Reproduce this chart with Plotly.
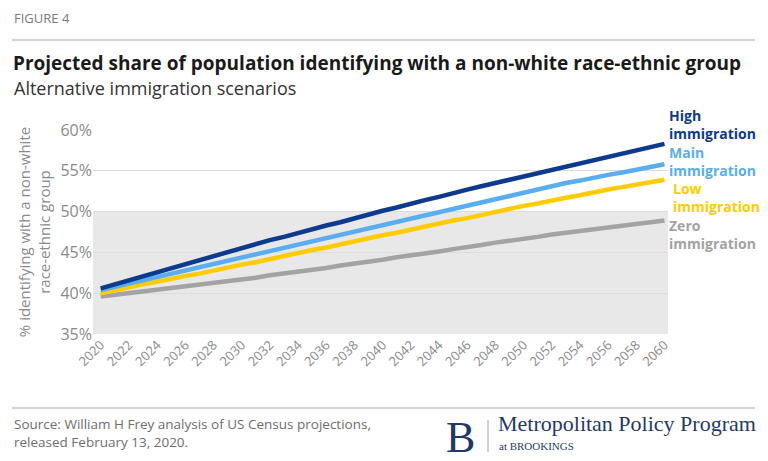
import plotly.graph_objects as go

years = list(range(2020, 2061))
high = [40.6, 41.1, 41.6, 42.1, 42.6, 43.1, 43.6, 44.1, 44.6, 45.0,
        45.5, 46.0, 46.5, 46.9, 47.4, 47.8, 48.3, 48.7, 49.2, 49.6,
        50.1, 50.5, 51.0, 51.4, 51.8, 52.3, 52.7, 53.1, 53.5, 53.9,
        54.3, 54.7, 55.1, 55.5, 55.9, 56.3, 56.7, 57.1, 57.5, 57.9, 58.3]
main = [40.4, 40.8, 41.2, 41.6, 42.0, 42.4, 42.7, 43.1, 43.5, 43.9,
        44.3, 44.7, 45.1, 45.5, 45.9, 46.3, 46.7, 47.1, 47.5, 47.9,
        48.3, 48.7, 49.1, 49.5, 49.9, 50.3, 50.7, 51.1, 51.5, 51.9,
        52.3, 52.7, 53.1, 53.5, 53.8, 54.2, 54.5, 54.8, 55.1, 55.5, 55.8]
low = [40.0, 40.4, 40.7, 41.1, 41.4, 41.8, 42.1, 42.4, 42.8, 43.1,
       43.5, 43.8, 44.2, 44.6, 44.9, 45.3, 45.6, 46.0, 46.4, 46.7,
       47.1, 47.4, 47.8, 48.2, 48.5, 48.9, 49.2, 49.6, 50.0, 50.3,
       50.7, 51.0, 51.4, 51.7, 52.0, 52.4, 52.7, 53.0, 53.3, 53.6, 53.9]
zero = [39.6, 39.8, 40.0, 40.2, 40.4, 40.6, 40.8, 41.0, 41.3, 41.5,
        41.7, 41.9, 42.2, 42.4, 42.6, 42.9, 43.1, 43.4, 43.6, 43.9,
        44.1, 44.4, 44.6, 44.9, 45.1, 45.4, 45.6, 45.9, 46.2, 46.4,
        46.7, 46.9, 47.2, 47.4, 47.6, 47.9, 48.1, 48.3, 48.5, 48.7, 48.9]
tick_years = list(range(2020, 2061, 2))
y_ticks = [35, 40, 45, 50, 55, 60]

series = [
    ("Zero", zero, "#A3A3A3"),
    ("Low", low, "#FFCC00"),
    ("Main", main, "#58AEF0"),
    ("High", high, "#0B3A8E"),
]

SANS = "'Open Sans', Roboto, sans-serif"
SERIF = "'Liberation Serif', 'DejaVu Serif', serif"

W, H = 768, 461
ML, MR, MT, MB = 93, 100, 130, 127


def px(x):
    return (x - ML) / (W - ML - MR)


def py(y):
    return (H - MB - y) / (H - MT - MB)


fig = go.Figure()
for name, vals, col in series:
    fig.add_trace(go.Scatter(x=years, y=vals, mode="lines", name=name + " immigration",
                             line=dict(color=col, width=4.5), showlegend=False,
                             hoverinfo="skip"))

# shaded band 35-50%
fig.add_shape(type="rect", xref="paper", yref="y", x0=0, x1=1, y0=35, y1=50,
              fillcolor="#E8E8E8", line=dict(width=0), layer="below")

# end labels: pixel y centre of first word, second word, x shift
label_pos = {
    "High": (115, 133, 0),
    "Main": (152, 170, 0),
    "Low": (188, 206, 4),
    "Zero": (225, 243, 0),
}
for name, vals, col in series:
    y1, y2, dx = label_pos[name]
    for word, yy in ((name, y1), ("immigration", y2)):
        fig.add_annotation(x=1, xref="paper", y=py(yy), yref="paper", text="<b>" + word + "</b>",
                           showarrow=False, xanchor="left", yanchor="middle", align="left",
                           xshift=dx, borderpad=0,
                           font=dict(family=SANS, size=14, color=col))

fig.update_layout(
    width=W, height=H,
    margin=dict(l=ML, r=MR, t=MT, b=MB),
    paper_bgcolor="white", plot_bgcolor="white",
    xaxis=dict(range=[2019.45, 2060.25], tickmode="array", tickvals=tick_years,
               ticktext=[str(y) for y in tick_years], tickangle=-45,
               tickfont=dict(family=SANS, size=13, color="#8A8A8A"),
               showgrid=False, zeroline=False, showline=False, ticks=""),
    yaxis=dict(range=[35, 60], tickvals=y_ticks, ticktext=[f"{v}%" for v in y_ticks],
               tickfont=dict(family=SANS, size=16, color="#8A8A8A"),
               showgrid=True, gridcolor="#DCDCDC", gridwidth=1, zeroline=False,
               ticks="", ticklen=0,
               title=dict(text="% identifying with a non-white<br>race-ethnic group",
                          font=dict(family=SANS, size=15, color="#8A8A8A"), standoff=6)),
)

def txt(x, y, text, size, color, family=SANS, align="left"):
    fig.add_annotation(x=px(x), y=py(y), xref="paper", yref="paper", text=text,
                       showarrow=False, xanchor="left", yanchor="middle", align=align,
                       font=dict(family=family, size=size, color=color))

# header
txt(12, 18, "FIGURE 4", 13, "#7A7A7A")
txt(11, 63, "<b>Projected share of population identifying with a non-white race-ethnic group</b>", 19, "#1A1A1A")
txt(12, 88, "Alternative immigration scenarios", 18, "#333333")

# footer
txt(12, 433, "Source: William H Frey analysis of US Census projections,<br>released February 13, 2020.", 13.5, "#6E6E6E")
txt(444, 437, "B", 44, "#1F3A68", SERIF)
txt(496, 423, "Metropolitan Policy Program", 22, "#1F3A68", SERIF)
txt(497, 446, "at BROOKINGS", 11, "#1F3A68", SERIF)

# separator lines
fig.add_shape(type="line", xref="paper", yref="paper", x0=px(12), x1=px(755), y0=py(40), y1=py(40),
              line=dict(color="#A8A8A8", width=1))
fig.add_shape(type="line", xref="paper", yref="paper", x0=px(12), x1=px(755), y0=py(408), y1=py(408),
              line=dict(color="#A8A8A8", width=1))
fig.add_shape(type="line", xref="paper", yref="paper", x0=px(488), x1=px(488), y0=py(420), y1=py(452),
              line=dict(color="#9AA5B8", width=1))

fig.write_html("out.html")
